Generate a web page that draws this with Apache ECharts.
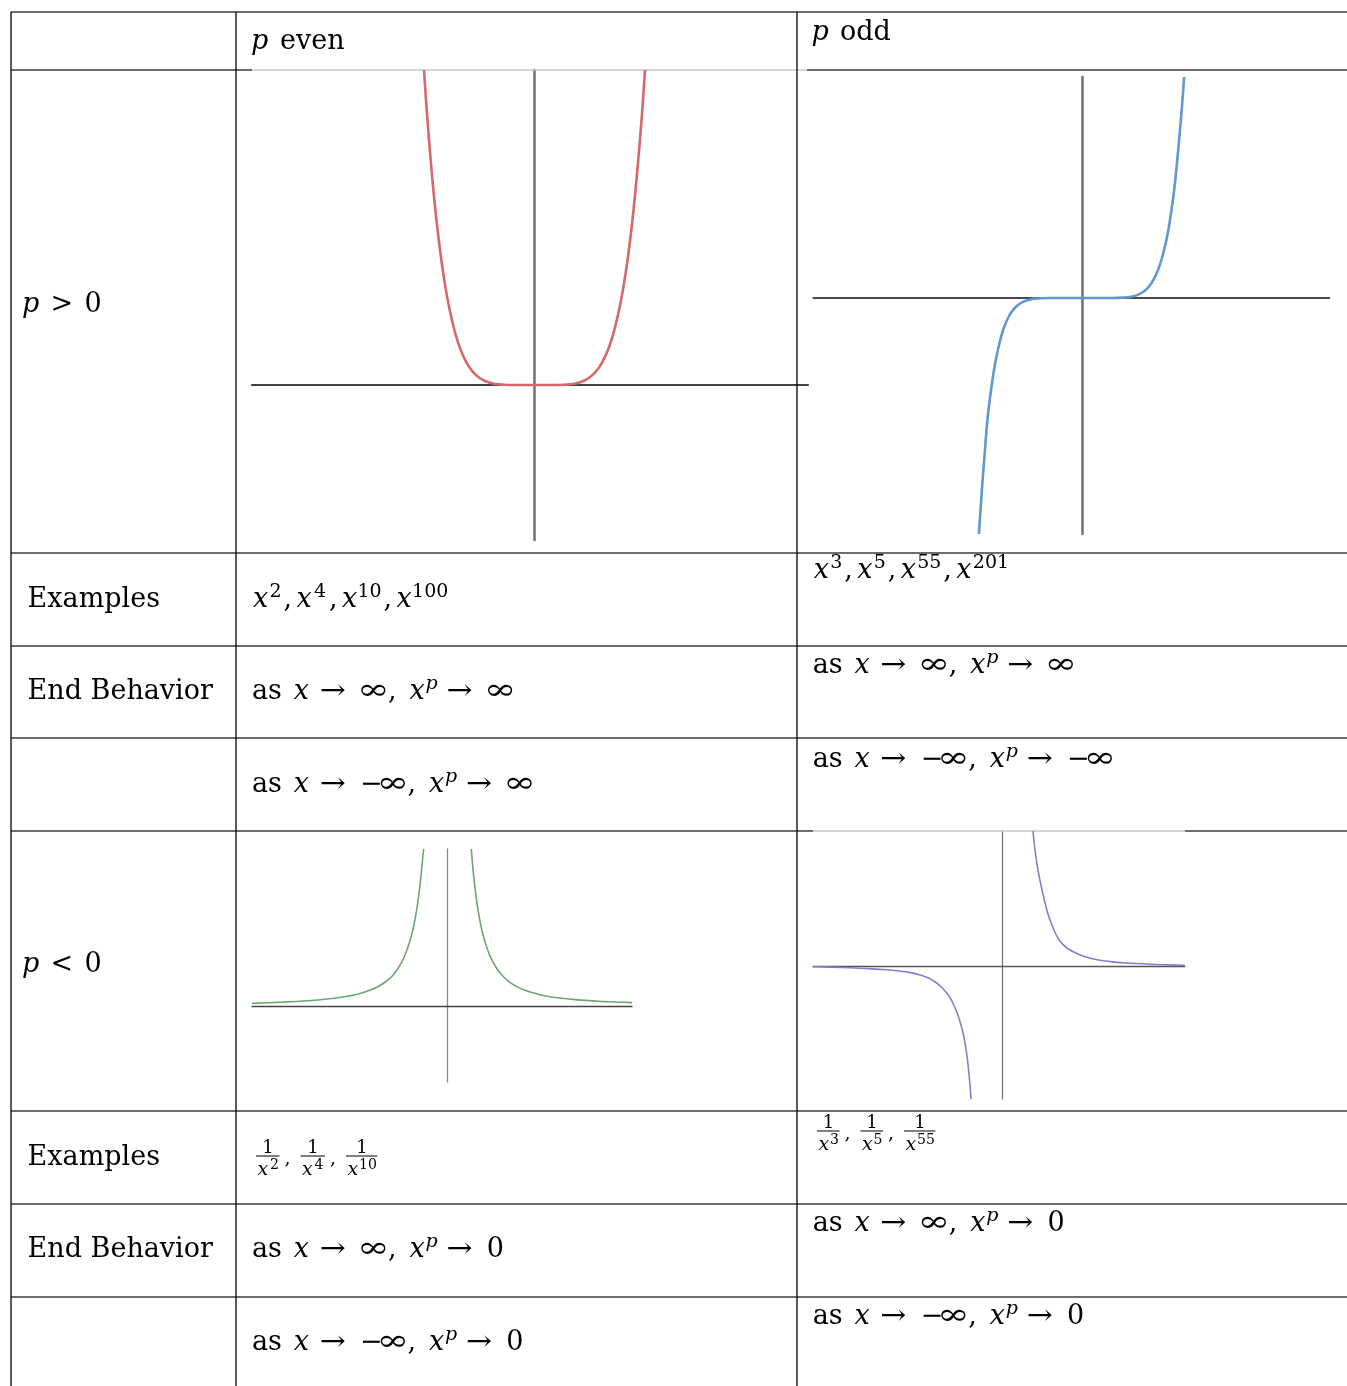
<!DOCTYPE html>
<html>
<head>
<meta charset="utf-8">
<script src="https://cdn.jsdelivr.net/npm/echarts@6/dist/echarts.min.js"></script>
<style>
  html, body { margin: 0; padding: 0; background: #fff; }
  #main { width: 1347px; height: 1386px; }
</style>
</head>
<body>
<div id="main"></div>
<script>
var evenPos = [[-110, 315], [-108, 285], [-106, 258], [-102, 209.5], [-98, 169], [-94, 135],
  [-90, 106.6], [-86, 83.4], [-82, 64.5], [-78, 49.2], [-74, 37], [-70, 27.4], [-65, 18.4],
  [-60, 11.9], [-55, 7.5], [-50, 4.5], [-45, 2.5], [-40, 1.3], [-35, 0.65], [-30, 0.28],
  [-20, 0.03], [0, 0], [20.2, 0.03], [30.3, 0.28], [35.3, 0.65], [40.4, 1.3], [45.4, 2.5],
  [50.5, 4.5], [55.5, 7.5], [60.5, 11.9], [65.6, 18.4], [70.6, 27.4], [74.7, 37], [78.7, 49.2],
  [82.7, 64.5], [86.8, 83.4], [90.8, 106.6], [94.9, 135], [98.9, 169], [102.9, 209.5],
  [107, 258], [109, 285], [111, 315]];
var oddPos = [[-103.1, -236], [-101, -205], [-99, -177], [-96.9, -150], [-94.9, -125],
  [-92.8, -106], [-89.7, -83], [-86.6, -64], [-82.5, -45], [-78.4, -30.5], [-74.2, -20.5],
  [-70.1, -13.5], [-66, -8.8], [-61.9, -5.5], [-56.7, -2.9], [-51.6, -1.4], [-46.4, -0.65],
  [-41.2, -0.3], [-30.9, -0.05], [0, 0], [30.6, 0.05], [40.8, 0.36], [45.9, 0.83], [51.1, 1.7],
  [56.2, 3.4], [61.3, 6.2], [65.3, 9.7], [69.4, 14.8], [73.5, 22.1], [77.6, 32.3], [81.7, 46.3],
  [85.8, 65.1], [88.8, 83.3], [91.9, 105.6], [93.9, 124], [96, 146], [98, 168], [100.1, 193],
  [102.1, 221]];
var evenNegLeft = [[-195.3, 2.6], [-165, 3.9], [-140, 5.3], [-120, 7], [-103, 9.2], [-90, 11.8],
  [-79, 15.2], [-70, 19], [-62, 24], [-55, 30], [-49, 38], [-44, 47], [-40, 57], [-36.5, 68],
  [-33, 83], [-30.5, 97], [-28, 115], [-26.2, 131], [-24.8, 146], [-23.6, 157]];
var evenNegRight = [[24, 157], [25, 144.6], [26.5, 128.8], [28, 115.4], [30, 100.6], [32.5, 85.9],
  [35.4, 72.5], [39, 59.9], [43, 49.4], [48.7, 38.7], [55, 30.5], [63, 23.4], [72, 18.1],
  [82, 14.2], [95, 10.8], [110, 8.2], [130, 6.1], [155, 4.5], [184.7, 3.4]];
var oddNegLeft = [[-189.3, -0.8], [-160, -1.5], [-138.6, -2.5], [-120, -3.5], [-105.3, -4.8],
  [-92, -6.6], [-82, -9], [-74, -12], [-67, -16], [-61, -21], [-56, -26.5], [-52, -32],
  [-48.6, -39], [-45.5, -46], [-42.5, -55], [-40, -64], [-38, -73], [-36.3, -83], [-34.8, -94],
  [-33.5, -106], [-32.3, -119], [-31.3, -133]];
var oddNegRight = [[30.7, 135], [32, 122], [33.5, 110], [35, 100], [36.5, 91.5], [38, 84],
  [40, 75], [43, 62], [46, 51], [50, 40], [54, 31], [58, 24.5], [64, 18.5], [71.4, 14], [82, 9.5],
  [94.7, 6.2], [110, 4.1], [128, 2.7], [155, 1.5], [182.4, 0.8]];

var evenExamples = ['2', '4', '10', '100'];
var oddExamples = ['3', '5', '55', '201'];
var evenRecip = ['2', '4', '10'];
var oddRecip = ['3', '5', '55'];

var SERIF = '"DejaVu Serif", serif';
var M = 27, S = 19, RAISE = 10;
var mctx = document.createElement('canvas').getContext('2d');

function fontOf(italic, size) { return (italic ? 'italic ' : '') + size + 'px ' + SERIF; }
function midOffset(f) {
  mctx.font = f;
  mctx.textBaseline = 'alphabetic';
  var a = mctx.measureText('H').actualBoundingBoxAscent;
  mctx.textBaseline = 'middle';
  var b = mctx.measureText('H').actualBoundingBoxAscent;
  mctx.textBaseline = 'alphabetic';
  return a - b;
}
function ink(t, f) {
  mctx.font = f;
  var m = mctx.measureText(t);
  return [m.actualBoundingBoxLeft, m.actualBoundingBoxRight];
}

var els = [];
function txt(t, x, baseline, italic, size, sx) {
  var f = fontOf(italic, size);
  els.push({
    type: 'text', x: x, y: baseline - midOffset(f), scaleX: sx || 1, silent: true, z: 10,
    style: { text: t, fontSize: size, fontFamily: SERIF, fontStyle: italic ? 'italic' : 'normal',
      fill: '#000', align: 'left', verticalAlign: 'middle' }
  });
}
// pieces: [text, kind, gapBefore, scaleX, size]; kind r/i main size, sr/si superscript
function mathLine(x0, baseline, pieces) {
  var cur = x0;
  pieces.forEach(function (p) {
    var sup = p[1] === 'sr' || p[1] === 'si';
    var italic = p[1] === 'i' || p[1] === 'si';
    var size = p[4] || (sup ? S : M);
    var sx = p[3] || 1;
    var b = ink(p[0], fontOf(italic, size));
    var inkL = cur + (p[2] || 0);
    var dx = inkL + b[0] * sx;
    txt(p[0], dx, sup ? baseline - RAISE : baseline, italic, size, sx);
    cur = dx + b[1] * sx;
  });
  return cur;
}
function hline(y, x1, x2, c) {
  els.push({ type: 'line', silent: true, z: 1, shape: { x1: x1, y1: y, x2: x2, y2: y },
    style: { stroke: c || '#3c3c3c', lineWidth: 1.3 } });
}
function vline(x, y1, y2) {
  els.push({ type: 'line', silent: true, z: 1, shape: { x1: x, y1: y1, x2: x, y2: y2 },
    style: { stroke: '#000', lineWidth: 1.3 } });
}
function examples(x0, baseline, sups) {
  var pieces = [];
  sups.forEach(function (s, i) {
    if (i > 0) pieces.push([',', 'r', 3]);
    pieces.push(['x', 'i', i > 0 ? 7 : 0]);
    pieces.push([s, 'sr', 2.5]);
  });
  mathLine(x0, baseline, pieces);
}
function fracs(x0, barY, sups) {
  var cur = x0;
  sups.forEach(function (s, i) {
    if (i > 0) {
      var cb = ink(',', fontOf(false, 19));
      var cx = cur + 5 + cb[0];
      txt(',', cx, barY + 8, false, 19);
      cur = cx + cb[1] + 11;
    }
    var xb = ink('x', fontOf(true, 19));
    var sb = ink(s, fontOf(false, 14));
    var xx = cur + 1.5 + xb[0];
    var sxp = xx + xb[1] + 1.5 + sb[0];
    var w = (sxp + sb[1]) - cur + 1.5;
    txt('x', xx, barY + 19, true, 19);
    txt(s, sxp, barY + 13, false, 14);
    var nb = ink('1', fontOf(false, 18));
    var nw = nb[0] + nb[1];
    txt('1', cur + (w - nw) / 2 + nb[0], barY - 3, false, 18);
    els.push({ type: 'line', silent: true, z: 10, shape: { x1: cur, y1: barY, x2: cur + w, y2: barY },
      style: { stroke: '#000', lineWidth: 1 } });
    cur += w;
  });
}

// table rules
hline(12, 11, 1347);
hline(70, 11, 252); hline(70, 252, 807, '#c8c8c8'); hline(70, 807, 1347);
hline(553, 11, 1347);
hline(646, 11, 1347);
hline(738, 11, 1347);
hline(831, 11, 813); hline(831, 813, 1185, '#c8c8c8'); hline(831, 1185, 1347);
hline(1111, 11, 1347);
hline(1204, 11, 1347);
hline(1297, 11, 1347);
vline(11, 12, 1386); vline(236, 12, 1386); vline(797, 12, 1386);

// headers and row labels
mathLine(252, 49, [['p', 'i', 0], ['even', 'r', 13]]);
mathLine(812.4, 40, [['p', 'i', 0], ['odd', 'r', 12.5]]);
mathLine(23, 312, [['p', 'i', 0], ['>', 'r', 13.4], ['0', 'r', 15]]);
mathLine(23, 972, [['p', 'i', 0], ['<', 'r', 13.4], ['0', 'r', 15]]);
mathLine(28.6, 607, [['Examples', 'r', 0]]);
mathLine(28.6, 699, [['End Behavior', 'r', 0]]);
mathLine(28.6, 1165, [['Examples', 'r', 0]]);
mathLine(28.6, 1257, [['End Behavior', 'r', 0]]);

examples(253, 607, evenExamples);
examples(813.7, 578, oddExamples);
fracs(256, 1156, evenRecip);
fracs(817, 1131, oddRecip);

var INF = ['∞', 'r', 16, 1.35, 29];
var NEGINF = [['−', 'r', 17], ['∞', 'r', 0.5, 1.35, 29]];
function asLine(x0, base, negX, tail) {
  var p = [['as', 'r', 0], ['x', 'i', 12.7], ['→', 'r', 12, 1.15]];
  if (negX) { p.push(NEGINF[0]); p.push(NEGINF[1]); } else p.push(INF);
  p.push([',', 'r', 1.5]); p.push(['x', 'i', 15.5]); p.push(['p', 'si', 1]); p.push(['→', 'r', 10, 1.15]);
  tail.forEach(function (t) { p.push(t); });
  mathLine(x0, base, p);
}
asLine(253, 699, false, [INF]);
asLine(253, 792, true, [INF]);
asLine(813.7, 673, false, [INF]);
asLine(813.7, 767, true, NEGINF);
asLine(253, 1257, false, [['0', 'r', 16]]);
asLine(253, 1350, true, [['0', 'r', 16]]);
asLine(813.7, 1231, false, [['0', 'r', 16]]);
asLine(813.7, 1324, true, [['0', 'r', 16]]);

var grids = [
  { left: 252, top: 70, width: 556, height: 470 },
  { left: 813.5, top: 77, width: 515.8, height: 457 },
  { left: 252, top: 849, width: 380, height: 233 },
  { left: 813, top: 831, width: 371.7, height: 268 }
];
var xr = [[-282, 274], [-268.5, 247.3], [-195.3, 184.7], [-189.3, 182.4]];
var yr = [[-155, 315], [-236, 221], [-76, 157], [-133, 135]];
var hAxis = [['#3f3f3f', 2], ['#4a4a4a', 2], ['#444', 1.3], ['#555', 1.3]];
var vAxis = [['#707070', 2.5], ['#707070', 2.5], ['#888', 1.3], ['#777', 1.3]];

function axis(i, r, st) {
  return {
    gridIndex: i, type: 'value', min: r[0], max: r[1],
    axisLine: { show: true, onZero: true, lineStyle: { color: st[0], width: st[1] } },
    axisTick: { show: false }, axisLabel: { show: false }, splitLine: { show: false }
  };
}
function curve(i, data, color, w) {
  return {
    type: 'line', xAxisIndex: i, yAxisIndex: i, data: data, showSymbol: false, smooth: 0.3,
    silent: true, lineStyle: { color: color, width: w }, z: 5
  };
}

var chart = echarts.init(document.getElementById('main'));
chart.setOption({
  animation: false,
  backgroundColor: '#fff',
  grid: grids,
  xAxis: grids.map(function (g, i) { return axis(i, xr[i], hAxis[i]); }),
  yAxis: grids.map(function (g, i) { return axis(i, yr[i], vAxis[i]); }),
  series: [
    curve(0, evenPos, '#d4696a', 2.6),
    curve(1, oddPos, '#6198d0', 2.6),
    curve(2, evenNegLeft, '#6aa86f', 1.6),
    curve(2, evenNegRight, '#6aa86f', 1.6),
    curve(3, oddNegLeft, '#8a7ccc', 1.6),
    curve(3, oddNegRight, '#8a7ccc', 1.6)
  ],
  graphic: els
});
</script>
</body>
</html>
